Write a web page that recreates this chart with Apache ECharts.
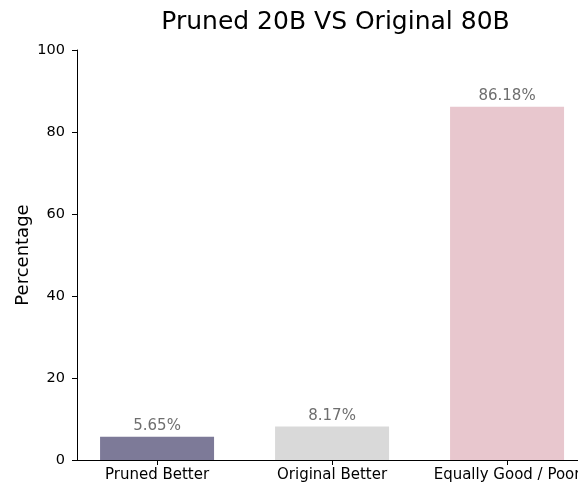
<!DOCTYPE html>
<html>
<head>
<meta charset="utf-8">
<script src="https://cdn.jsdelivr.net/npm/echarts@6/dist/echarts.min.js"></script>
<style>
  html, body { margin: 0; padding: 0; background: #fff; }
  #chart { width: 578px; height: 484px; }
</style>
</head>
<body>
<div id="chart"></div>
<script>
// data
var categories = ["Pruned Better", "Original Better", "Equally Good / Poor"];
var percentages = [5.65, 8.17, 86.18];
var barColors = ["#7d7a98", "#d9d9d9", "#e8c7ce"];
var yTicks = [0, 20, 40, 60, 80, 100];
var xPositions = [0, 1, 2];

var font = "DejaVu Sans";

var chart = echarts.init(document.getElementById("chart"));

// the original plot area runs past the right edge of the picture,
// so the x range is cut where the canvas ends (175 px per category)
var option = {
  animation: false,
  title: {
    text: "Pruned 20B VS Original 80B",
    left: 330.5,
    top: 5,
    textAlign: "center",
    textStyle: { fontFamily: font, fontSize: 25, fontWeight: "normal", color: "#000" }
  },
  grid: { left: 77, right: 0, top: 50, bottom: 24, containLabel: false, outerBoundsMode: "none" },
  xAxis: {
    type: "value",
    min: -0.4575,
    max: 2.4054,
    splitLine: { show: false },
    axisLine: { show: true, onZero: false, lineStyle: { color: "#000", width: 1 } },
    axisTick: { show: true, length: 5, customValues: xPositions, lineStyle: { color: "#000" } },
    axisLabel: {
      customValues: xPositions,
      formatter: function (v) { return categories[Math.round(v)]; },
      fontFamily: font, fontSize: 15, color: "#000", margin: 8
    }
  },
  yAxis: {
    type: "value",
    min: 0,
    max: 100,
    interval: 20,
    name: "Percentage",
    nameLocation: "middle",
    nameGap: 45,
    nameMoveOverlap: false,
    nameTextStyle: { fontFamily: font, fontSize: 18, color: "#000" },
    splitLine: { show: false },
    axisLine: { show: true, onZero: false, lineStyle: { color: "#000", width: 1 } },
    axisTick: { show: true, length: 5, customValues: yTicks, lineStyle: { color: "#000" } },
    axisLabel: { customValues: yTicks, fontFamily: font, fontSize: 14.5, color: "#000", margin: 12 }
  },
  series: [{
    type: "bar",
    barWidth: 114,
    data: percentages.map(function (v, i) {
      return { value: [xPositions[i], v], itemStyle: { color: barColors[i] } };
    }),
    label: {
      show: true,
      position: "top",
      distance: 3,
      formatter: function (p) { return p.value[1].toFixed(2) + "%"; },
      fontFamily: font, fontSize: 15, color: "#6e6e6e"
    }
  }]
};

chart.setOption(option);
</script>
</body>
</html>
